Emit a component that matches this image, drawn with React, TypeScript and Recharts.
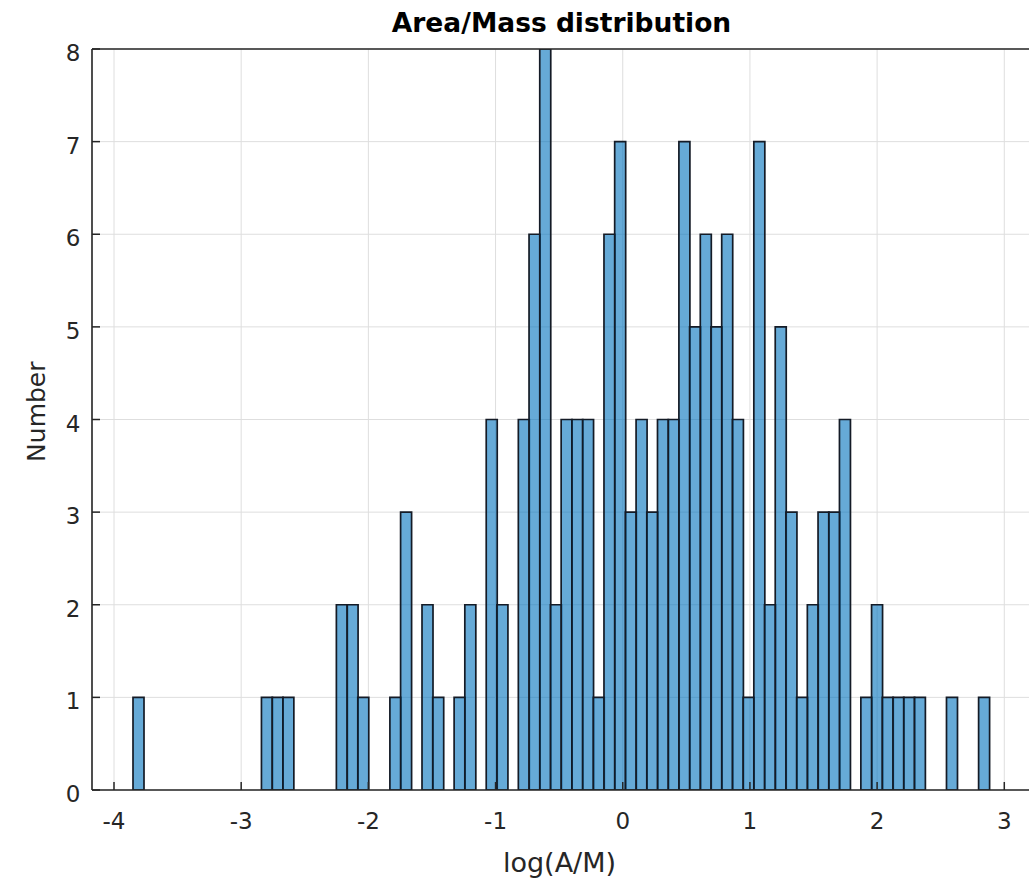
import React from 'react';
import { ComposedChart, Bar, XAxis, YAxis, CartesianGrid, Label } from 'recharts';

// Histogram bins: left edge of first bin and bin width (log(A/M) units)
const BIN_START = -3.8506;
const BIN_WIDTH = 0.08416;
// Counts per bin (80 bins)
const COUNTS = [
  1, 0, 0, 0, 0, 0, 0, 0, 0, 0, 0, 0,
  1, 1, 1,
  0, 0, 0, 0,
  2, 2, 1,
  0, 0,
  1, 3,
  0,
  2, 1,
  0,
  1, 2,
  0,
  4, 2,
  0,
  4, 6, 8, 2, 4, 4, 4, 1, 6, 7, 3, 4, 3, 4, 4, 7, 5, 6, 5, 6, 4, 1, 7, 2, 5, 3, 1, 2, 3, 3, 4,
  0,
  1, 2, 1, 1, 1, 1,
  0, 0,
  1,
  0, 0,
  1,
];
const X_TICKS = [-4, -3, -2, -1, 0, 1, 2, 3];
const Y_TICKS = [0, 1, 2, 3, 4, 5, 6, 7, 8];
const X_DOMAIN: [number, number] = [-4.173, 3.21];
const Y_DOMAIN: [number, number] = [0, 8];

const TITLE = 'Area/Mass distribution';
const X_LABEL = 'log(A/M)';
const Y_LABEL = 'Number';

const data = COUNTS.map((c, i) => ({ x: BIN_START + (i + 0.5) * BIN_WIDTH, count: c }));

const AX = '#262626';
const FONT = '"DejaVu Sans", Arial, sans-serif';
const TICK_FS = 23;
const TICK_LEN = 8;

const BottomTickLabel = (props: any) => {
  const { x, y, payload } = props;
  return (
    <text x={x} y={y} textAnchor="middle" fontSize={TICK_FS} fontFamily={FONT} fill={AX}>
      {String(payload.value)}
    </text>
  );
};

const LeftTickLabel = (props: any) => {
  const { x, y, payload } = props;
  return (
    <text x={x} y={y + 12} textAnchor="end" fontSize={TICK_FS} fontFamily={FONT} fill={AX}>
      {String(payload.value)}
    </text>
  );
};

const tickLineStyle = { stroke: AX, strokeWidth: 1.5 };
const axisLineStyle = { stroke: AX, strokeWidth: 1.6 };

export default function App() {
  return (
    <div
      style={{
        position: 'absolute',
        left: 0,
        top: 0,
        width: 1029,
        height: 883,
        overflow: 'hidden',
        background: '#fff',
      }}
    >
      <ComposedChart
        width={1040}
        height={883}
        data={data}
        margin={{ top: 48, right: 8, bottom: 33, left: 0 }}
        barCategoryGap={0}
        barGap={0}
      >
        <CartesianGrid stroke="#dedede" strokeWidth={1} />
        <Bar
          dataKey="count"
          fill="#0072BD"
          fillOpacity={0.6}
          stroke="#141b26"
          strokeWidth={1.7}
          isAnimationActive={false}
        />
        <XAxis
          dataKey="x"
          type="number"
          domain={X_DOMAIN}
          ticks={X_TICKS}
          allowDataOverflow
          interval={0}
          height={60}
          tickSize={-TICK_LEN}
          tickMargin={TICK_LEN + 39}
          tickLine={tickLineStyle}
          axisLine={axisLineStyle}
          tick={<BottomTickLabel />}
        >
          <Label
            content={() => (
              <g>
                <text x={559.5} y={872} textAnchor="middle" fontSize={27} fontFamily={FONT} fill={AX}>
                  {X_LABEL}
                </text>
                <text
                  x={561.5}
                  y={32}
                  textAnchor="middle"
                  fontSize={26.5}
                  fontWeight="bold"
                  fontFamily={FONT}
                  fill="#000"
                >
                  {TITLE}
                </text>
              </g>
            )}
          />
        </XAxis>
        <XAxis
          xAxisId="top"
          orientation="top"
          dataKey="x"
          type="number"
          domain={X_DOMAIN}
          ticks={X_TICKS}
          allowDataOverflow
          interval={0}
          height={1}
          tickSize={-TICK_LEN}
          tickMargin={0}
          tickLine={tickLineStyle}
          axisLine={axisLineStyle}
          tick={false}
        />
        <YAxis
          type="number"
          domain={Y_DOMAIN}
          ticks={Y_TICKS}
          allowDataOverflow
          interval={0}
          width={92}
          tickSize={-TICK_LEN}
          tickMargin={TICK_LEN + 11.5}
          tickLine={tickLineStyle}
          axisLine={axisLineStyle}
          tick={<LeftTickLabel />}
        >
          <Label
            content={() => (
              <text
                x={45}
                y={411.7}
                transform="rotate(-90 45 411.7)"
                textAnchor="middle"
                fontSize={25}
                fontFamily={FONT}
                fill={AX}
              >
                {Y_LABEL}
              </text>
            )}
          />
        </YAxis>
        <YAxis
          yAxisId="right"
          orientation="right"
          type="number"
          domain={Y_DOMAIN}
          ticks={Y_TICKS}
          allowDataOverflow
          interval={0}
          width={1}
          tickSize={-TICK_LEN}
          tickMargin={0}
          tickLine={tickLineStyle}
          axisLine={axisLineStyle}
          tick={false}
        />
      </ComposedChart>
    </div>
  );
}
